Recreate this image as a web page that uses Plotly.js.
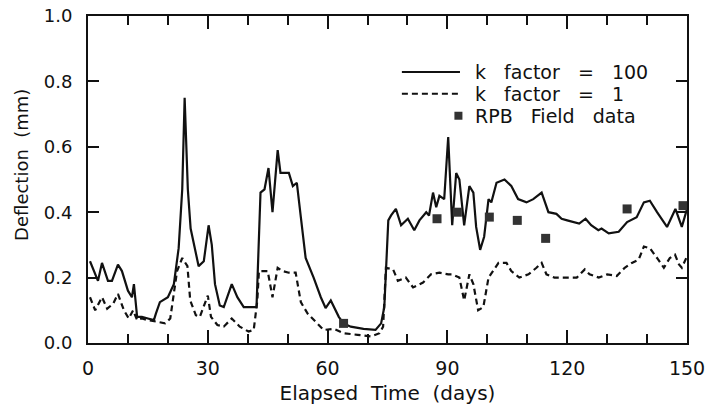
<!DOCTYPE html>
<html>
<head>
<meta charset="utf-8">
<script src="https://cdn.plot.ly/plotly-3.0.1.min.js"></script>
<style>html,body{margin:0;padding:0;background:#fff;}#chart{width:707px;height:411px;}</style>
</head>
<body>
<div id="chart"></div>
<script>
// k factor = 100 (solid)
const daysK100 = [0.5, 2.5, 3.5, 5, 6, 7.5, 8.5, 10, 11, 11.5, 12.3, 13.5, 15, 16.5, 17, 18, 20, 21.5, 22.7, 23.6, 24.2, 25, 25.7, 27.7, 29, 30.2, 31, 31.8, 33, 34, 36, 37.4, 39, 40.7, 42.2, 43.2, 44.2, 45.2, 46.2, 47.5, 48.2, 49, 50.3, 51.3, 52.3, 53.3, 54.5, 56.5, 58.3, 59.5, 60.8, 62.8, 64, 65.8, 69, 72, 73.4, 74.2, 75.2, 75.9, 77.1, 78.4, 80.1, 81.7, 83, 84.7, 85.4, 86.4, 87.2, 88, 89.2, 90.2, 91.2, 92.2, 93, 94.2, 95.5, 96.5, 97.2, 98.2, 99.2, 100.3, 101, 102.3, 104.3, 106, 107.7, 109.8, 111.5, 113.6, 115.3, 117.3, 118.6, 120, 121.6, 123, 124.6, 126, 127.8, 128.6, 130.4, 132.9, 135, 137.4, 139.2, 140.7, 142.5, 145, 147.1, 148.7, 150];
const defK100 = [0.25, 0.19, 0.245, 0.19, 0.19, 0.24, 0.22, 0.16, 0.14, 0.18, 0.08, 0.08, 0.075, 0.07, 0.09, 0.125, 0.14, 0.18, 0.29, 0.47, 0.75, 0.47, 0.35, 0.235, 0.25, 0.36, 0.30, 0.18, 0.115, 0.11, 0.18, 0.14, 0.11, 0.11, 0.11, 0.46, 0.47, 0.535, 0.40, 0.59, 0.52, 0.52, 0.52, 0.48, 0.49, 0.385, 0.26, 0.20, 0.14, 0.107, 0.13, 0.08, 0.06, 0.05, 0.043, 0.04, 0.06, 0.11, 0.375, 0.39, 0.41, 0.36, 0.38, 0.345, 0.375, 0.40, 0.39, 0.46, 0.415, 0.45, 0.44, 0.63, 0.36, 0.52, 0.50, 0.36, 0.48, 0.46, 0.355, 0.285, 0.325, 0.44, 0.43, 0.49, 0.50, 0.48, 0.44, 0.43, 0.44, 0.46, 0.40, 0.395, 0.38, 0.375, 0.37, 0.365, 0.38, 0.36, 0.345, 0.35, 0.335, 0.34, 0.37, 0.385, 0.43, 0.435, 0.40, 0.355, 0.41, 0.355, 0.41];

// k factor = 1 (dashed)
const daysK1 = [0.5, 1.8, 3.5, 4.8, 6.3, 7.5, 9, 10.2, 11.3, 12.3, 13.5, 15, 17.3, 19.3, 20.6, 22.3, 23.6, 24.9, 25.6, 27, 28, 29, 30, 30.8, 32.4, 34, 36, 38, 40.2, 41.5, 42.4, 42.8, 44, 45, 46.2, 47.5, 48.7, 50.3, 52, 53.3, 55, 56.5, 59, 61.6, 64, 67.5, 71, 73, 73.9, 74.6, 76.4, 77.6, 79.6, 81.4, 83.9, 85.9, 88, 90.2, 91.2, 93, 94.2, 95.5, 96.5, 97.7, 99, 100.3, 101.5, 102.8, 104.8, 106, 108, 110.3, 112.3, 113.6, 114.8, 116.8, 119.3, 122.4, 124.4, 125.6, 127.9, 130, 132.4, 134.4, 136.2, 137.9, 139.2, 140.7, 142.5, 144.2, 145.7, 147, 148, 148.7, 150];
const defK1 = [0.14, 0.10, 0.14, 0.105, 0.12, 0.15, 0.10, 0.075, 0.10, 0.07, 0.075, 0.07, 0.065, 0.06, 0.075, 0.22, 0.26, 0.235, 0.13, 0.085, 0.08, 0.11, 0.145, 0.08, 0.055, 0.05, 0.075, 0.05, 0.035, 0.04, 0.13, 0.22, 0.22, 0.22, 0.14, 0.23, 0.22, 0.215, 0.215, 0.125, 0.09, 0.07, 0.04, 0.043, 0.03, 0.025, 0.02, 0.03, 0.05, 0.23, 0.225, 0.19, 0.20, 0.17, 0.185, 0.21, 0.215, 0.21, 0.21, 0.20, 0.13, 0.21, 0.18, 0.10, 0.11, 0.20, 0.22, 0.245, 0.245, 0.22, 0.20, 0.21, 0.23, 0.245, 0.21, 0.20, 0.20, 0.20, 0.225, 0.21, 0.20, 0.21, 0.205, 0.23, 0.245, 0.255, 0.295, 0.29, 0.26, 0.23, 0.26, 0.27, 0.24, 0.23, 0.265];

// RPB field data (squares)
const daysField = [64, 87.4, 92.5, 100.5, 107.5, 114.6, 135, 149];
const defField = [0.06, 0.38, 0.40, 0.385, 0.375, 0.32, 0.41, 0.42];

const xTickVals = [0, 30, 60, 90, 120, 150];
const xTickText = ['0', '30', '60', '90', '120', '150'];
const yTickVals = [0, 0.2, 0.4, 0.6, 0.8, 1.0];
const yTickText = ['0.0', '0.2', '0.4', '0.6', '0.8', '1.0'];
const SP = '\u00a0\u00a0\u00a0';
const legendLabels = ['k' + SP + 'factor' + SP + '=' + SP + '100', 'k' + SP + 'factor' + SP + '=' + SP + '1', 'RPB' + SP + 'Field' + SP + 'data'];
const xTitle = 'Elapsed\u00a0\u00a0Time\u00a0\u00a0(days)';
const yTitle = 'Deflection\u00a0\u00a0(mm)';

const FONT = 'DejaVu Sans, Liberation Sans, sans-serif';

const traces = [
  {x: daysK100, y: defK100, mode: 'lines', line: {color: '#111', width: 2.2}, name: legendLabels[0]},
  {x: daysK1, y: defK1, mode: 'lines', line: {color: '#111', width: 2.2, dash: '6px,4px'}, name: legendLabels[1]},
  {x: daysField, y: defField, mode: 'markers', marker: {symbol: 'square', size: 9, color: '#333'}, name: legendLabels[2]}
];

// legend drawn inside plot (paper coords)
const lx0 = 0.524, lx1 = 0.621, ltx = 0.643;
const ly = [0.829, 0.762, 0.695];
const shapes = [
  {type: 'line', xref: 'paper', yref: 'paper', x0: lx0, x1: lx1, y0: ly[0], y1: ly[0], line: {color: '#111', width: 2}},
  {type: 'line', xref: 'paper', yref: 'paper', x0: lx0, x1: lx1, y0: ly[1], y1: ly[1], line: {color: '#111', width: 2, dash: '6px,4px'}},
  {type: 'rect', xref: 'paper', yref: 'paper', x0: 0.6117, x1: 0.6251, y0: ly[2] - 0.0122, y1: ly[2] + 0.0122, fillcolor: '#333', line: {width: 0}}
];
const annotations = legendLabels.map((t, i) => ({
  xref: 'paper', yref: 'paper', x: ltx, y: ly[i], xanchor: 'left', yanchor: 'middle',
  text: t, showarrow: false, font: {family: FONT, size: 19, color: '#111'}
}));
annotations.push({
  xref: 'paper', yref: 'paper', x: -0.11, y: 0.545, xanchor: 'center', yanchor: 'middle',
  textangle: -90, text: yTitle, showarrow: false, font: {family: FONT, size: 18, color: '#111'}
});

const layout = {
  width: 707, height: 411,
  margin: {l: 88, r: 20, t: 16, b: 68},
  paper_bgcolor: '#fff', plot_bgcolor: '#fff',
  showlegend: false,
  font: {family: FONT, size: 18, color: '#111'},
  xaxis: {
    range: [0, 150], tickvals: xTickVals, ticktext: xTickText,
    ticks: 'inside', ticklen: 13, tickwidth: 2, tickcolor: '#111',
    minor: {dtick: 10, tick0: 0, ticks: 'inside', ticklen: 9, tickwidth: 2, tickcolor: '#111', showgrid: false},
    showline: true, linewidth: 2, linecolor: '#111', mirror: 'ticks',
    showgrid: false, zeroline: false, ticklabelstandoff: 7,
    tickfont: {family: FONT, size: 19, color: '#111'},
    title: {text: xTitle, font: {family: FONT, size: 20, color: '#111'}, standoff: 8}
  },
  yaxis: {
    range: [0, 1.0], tickvals: yTickVals, ticktext: yTickText,
    ticks: 'inside', ticklen: 11, tickwidth: 2, tickcolor: '#111',
    showline: true, linewidth: 2, linecolor: '#111', mirror: 'ticks',
    showgrid: false, zeroline: false, ticklabelstandoff: 10,
    tickfont: {family: FONT, size: 18, color: '#111'}
  },
  shapes: shapes,
  annotations: annotations
};

Plotly.newPlot('chart', traces, layout, {displayModeBar: false, staticPlot: true});
</script>
</body>
</html>
